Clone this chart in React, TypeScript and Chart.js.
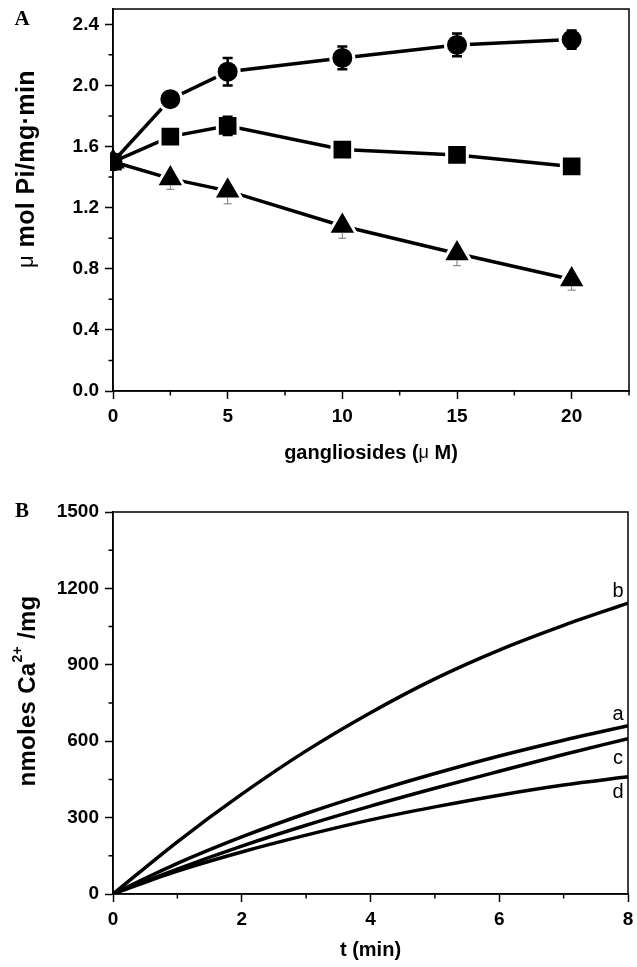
import React, { useEffect, useRef } from "react";
import { Chart, registerables } from "chart.js";

Chart.register(...registerables);

const SANS = '"Liberation Sans", Arial, Helvetica, sans-serif';
const SERIF = '"Liberation Serif", "Times New Roman", serif';

// ---- Panel A: ATPase activity against ganglioside concentration ----
const gangliosides = [0, 2.5, 5, 10, 15, 20];
const activityCircles = [1.5, 1.91, 2.09, 2.18, 2.265, 2.3];
const errorCircles = [0, 0.05, 0.09, 0.075, 0.075, 0.06];
const activitySquares = [1.5, 1.665, 1.735, 1.58, 1.545, 1.47];
const errorSquares = [0, 0.04, 0.06, 0.04, 0.035, 0.04];
const activityTriangles = [1.5, 1.39, 1.31, 1.08, 0.9, 0.73];
const errorTriangles = [0, 0.07, 0.085, 0.08, 0.08, 0.07];

const xTicksA = [0, 5, 10, 15, 20];
const xMinorA = [2.5, 7.5, 12.5, 17.5, 22.5];
const yTicksA = [0, 0.4, 0.8, 1.2, 1.6, 2.0, 2.4];
const yMinorA = [0.2, 0.6, 1.0, 1.4, 1.8, 2.2];

// ---- Panel B: Ca2+ uptake time course ----
const timeMin = [0, 1, 2, 3, 4, 5, 6, 7, 8];
const uptakeA = [0, 120, 224, 316, 398, 473, 542, 604, 661];
const uptakeB = [0, 205, 392, 562, 712, 845, 958, 1055, 1142];
const uptakeC = [0, 98, 188, 270, 345, 415, 482, 548, 610];
const uptakeD = [0, 90, 165, 231, 291, 342, 388, 428, 460];
const curveNames = ["a", "b", "c", "d"];

const xTicksB = [0, 2, 4, 6, 8];
const xMinorB = [1, 3, 5, 7];
const yTicksB = [0, 300, 600, 900, 1200, 1500];
const yMinorB = [150, 450, 750, 1050, 1350];

const TICK_FONT = { family: SANS, size: 19, weight: "bold" as const };

function linearAxis(
  min: number,
  max: number,
  ticks: number[],
  fmt: (v: number) => string,
  size: number,
  vertical: boolean
) {
  return {
    type: "linear" as const,
    min,
    max,
    afterBuildTicks: (s: any) => {
      s.ticks = ticks.map((value) => ({ value }));
    },
    afterFit: (s: any) => {
      if (vertical) {
        s.width = size;
        s.paddingTop = 0;
        s.paddingBottom = 0;
      } else {
        s.height = size;
        s.paddingLeft = 0;
        s.paddingRight = 0;
      }
    },
    grid: {
      drawOnChartArea: false,
      drawTicks: true,
      tickLength: 8,
      tickColor: "#000",
      tickWidth: 1.5,
    },
    border: { display: true, color: "#000", width: 1.5 },
    ticks: {
      color: "#000",
      font: TICK_FONT,
      padding: 6,
      autoSkip: false,
      maxRotation: 0,
      callback: (v: any) => fmt(Number(v)),
    },
  };
}

// Sequential text pieces, optionally rotated, centred on (cx, cy)
type Piece = { t: string; font: string; dy?: number };
function drawPieces(
  ctx: CanvasRenderingContext2D,
  pieces: Piece[],
  cx: number,
  cy: number,
  rotate = false,
  spacing = 0
) {
  ctx.save();
  ctx.translate(cx, cy);
  if (rotate) ctx.rotate(-Math.PI / 2);
  ctx.textBaseline = "middle";
  ctx.textAlign = "left";
  ctx.fillStyle = "#000";
  (ctx as any).letterSpacing = `${spacing}px`;
  let total = 0;
  const widths = pieces.map((p) => {
    ctx.font = p.font;
    const w = ctx.measureText(p.t).width;
    total += w;
    return w;
  });
  let x = -total / 2;
  pieces.forEach((p, i) => {
    ctx.font = p.font;
    ctx.fillText(p.t, x, p.dy || 0);
    x += widths[i];
  });
  ctx.restore();
}

function frameAndMinor(chart: any, xMinor: number[], yMinor: number[]) {
  const { ctx, chartArea: a } = chart;
  const xs = chart.scales.x;
  const ys = chart.scales.y;
  ctx.save();
  ctx.strokeStyle = "#000";
  ctx.lineWidth = 1.5;
  ctx.strokeRect(a.left, a.top, a.right - a.left, a.bottom - a.top);
  ctx.beginPath();
  xMinor.forEach((v) => {
    const p = xs.getPixelForValue(v);
    ctx.moveTo(p, a.bottom);
    ctx.lineTo(p, a.bottom + 4.5);
  });
  yMinor.forEach((v) => {
    const p = ys.getPixelForValue(v);
    ctx.moveTo(a.left, p);
    ctx.lineTo(a.left - 4.5, p);
  });
  ctx.stroke();
  ctx.restore();
}

// Error bar specs for panel A: inner gaps keep bars outside the marker body
const errorSpecs = [
  { values: activityCircles, errors: errorCircles, color: "#000", width: 2.5, cap: 5, innerUp: 9, innerDown: 9 },
  { values: activitySquares, errors: errorSquares, color: "#000", width: 2.5, cap: 5, innerUp: 8.5, innerDown: 8.5 },
  { values: activityTriangles, errors: errorTriangles, color: "#777", width: 1, cap: 4, innerUp: 13, innerDown: 6.5 },
];

const baseOptions = (padTop: number, padRight: number) => ({
  animation: false as const,
  responsive: false,
  devicePixelRatio: 1,
  events: [] as any[],
  layout: { autoPadding: false, padding: { left: 0, top: padTop, right: padRight, bottom: 0 } },
  plugins: { legend: { display: false }, tooltip: { enabled: false } },
});

function PanelA() {
  const ref = useRef<HTMLCanvasElement>(null);
  useEffect(() => {
    const halo = (c: any) => (c.dataIndex === 0 ? 0 : 3);
    const base = {
      borderColor: "#000",
      borderWidth: 3.5,
      pointBackgroundColor: "#000",
      pointBorderColor: "#fff",
      pointBorderWidth: halo,
      tension: 0,
      clip: 3,
    };
    const chart = new Chart(ref.current!, {
      type: "line",
      data: {
        datasets: [
          {
            ...base,
            data: gangliosides.map((x, i) => ({ x, y: activityCircles[i] })),
            pointStyle: "circle",
            pointRadius: (c: any) => (c.dataIndex === 0 ? 9.5 : 11.5),
          },
          {
            ...base,
            data: gangliosides.map((x, i) => ({ x, y: activitySquares[i] })),
            pointStyle: "rect",
            pointRadius: (c: any) => (c.dataIndex === 0 ? 12.3 : 14.6),
          },
          {
            ...base,
            data: gangliosides.map((x, i) => ({ x, y: activityTriangles[i] })),
            pointStyle: "triangle",
            pointRadius: (c: any) => (c.dataIndex === 0 ? 13.5 : 16.5),
          },
        ] as any,
      },
      options: {
        ...baseOptions(9, 8),
        scales: {
          x: linearAxis(0, 22.5, xTicksA, (v) => String(v), 79, false),
          y: linearAxis(0, 2.5, yTicksA, (v) => v.toFixed(1), 113, true),
        } as any,
      },
      plugins: [
        {
          id: "errorBars",
          afterDatasetsDraw(c: any) {
            const { ctx } = c;
            const xs = c.scales.x;
            const ys = c.scales.y;
            ctx.save();
            errorSpecs.forEach((s) => {
              ctx.strokeStyle = s.color;
              ctx.lineWidth = s.width;
              s.values.forEach((v, i) => {
                const e = s.errors[i];
                if (!e) return;
                const px = xs.getPixelForValue(gangliosides[i]);
                const py = ys.getPixelForValue(v);
                const top = ys.getPixelForValue(v + e);
                const bot = ys.getPixelForValue(v - e);
                ctx.beginPath();
                if (py - top > s.innerUp) {
                  ctx.moveTo(px, py - s.innerUp);
                  ctx.lineTo(px, top);
                  ctx.moveTo(px - s.cap, top);
                  ctx.lineTo(px + s.cap, top);
                }
                if (bot - py > s.innerDown) {
                  ctx.moveTo(px, py + s.innerDown);
                  ctx.lineTo(px, bot);
                  ctx.moveTo(px - s.cap, bot);
                  ctx.lineTo(px + s.cap, bot);
                }
                ctx.stroke();
              });
            });
            ctx.restore();
          },
          afterDraw(c: any) {
            frameAndMinor(c, xMinorA, yMinorA);
            const { ctx, chartArea: a } = c;
            const cx = (a.left + a.right) / 2;
            const cy = (a.top + a.bottom) / 2;
            drawPieces(ctx, [{ t: "A", font: `bold 21px ${SERIF}` }], 22, 20);
            drawPieces(
              ctx,
              [
                { t: "\u03bc", font: `22px ${SANS}` },
                { t: " mol Pi/mg\u00b7min", font: `bold 25px ${SANS}` },
              ],
              27,
              cy - 31,
              true,
              0.4
            );
            drawPieces(
              ctx,
              [
                { t: "gangliosides (", font: `bold 20px ${SANS}` },
                { t: "\u03bc", font: `18px ${SANS}` },
                { t: " M)", font: `bold 20px ${SANS}` },
              ],
              cx,
              a.bottom + 62
            );
          },
        },
      ],
    });
    return () => chart.destroy();
  }, []);
  return (
    <canvas
      ref={ref}
      width={637}
      height={470}
      style={{ position: "absolute", left: 0, top: 0, display: "block" }}
    />
  );
}

// Label offsets for the curve names, relative to each curve's end point
const labelShift = [-11, -12, 20, 16];

function PanelB() {
  const ref = useRef<HTMLCanvasElement>(null);
  useEffect(() => {
    const series = [uptakeA, uptakeB, uptakeC, uptakeD];
    const chart = new Chart(ref.current!, {
      type: "line",
      data: {
        datasets: series.map((vals, k) => ({
          label: curveNames[k],
          data: timeMin.map((x, i) => ({ x, y: vals[i] })),
          borderColor: "#000",
          borderWidth: 3.5,
          pointRadius: 0,
          cubicInterpolationMode: "monotone",
          tension: 0.4,
        })) as any,
      },
      options: {
        ...baseOptions(42, 9),
        scales: {
          x: linearAxis(0, 8, xTicksB, (v) => String(v), 73, false),
          y: linearAxis(0, 1500, yTicksB, (v) => String(v), 113, true),
        } as any,
      },
      plugins: [
        {
          id: "decorB",
          afterDraw(c: any) {
            frameAndMinor(c, xMinorB, yMinorB);
            const { ctx, chartArea: a } = c;
            const cx = (a.left + a.right) / 2;
            const cy = (a.top + a.bottom) / 2;
            drawPieces(ctx, [{ t: "B", font: `bold 21px ${SERIF}` }], 22, a.top);
            drawPieces(
              ctx,
              [
                { t: "nmoles Ca", font: `bold 24px ${SANS}` },
                { t: "2+", font: `bold 14px ${SANS}`, dy: -10 },
                { t: " /mg", font: `bold 24px ${SANS}` },
              ],
              28,
              cy - 12,
              true,
              0.3
            );
            drawPieces(ctx, [{ t: "t (min)", font: `bold 20px ${SANS}` }], cx, a.bottom + 56);
            // curve names next to the curve ends
            c.data.datasets.forEach((ds: any, k: number) => {
              const last = ds.data[ds.data.length - 1];
              const py = c.scales.y.getPixelForValue(last.y) + labelShift[k];
              drawPieces(ctx, [{ t: curveNames[k], font: `20px ${SANS}` }], a.right - 10, py);
            });
          },
        },
      ],
    });
    return () => chart.destroy();
  }, []);
  return (
    <canvas
      ref={ref}
      width={637}
      height={497}
      style={{ position: "absolute", left: 0, top: 470, display: "block" }}
    />
  );
}

export default function App() {
  return (
    <div style={{ position: "absolute", left: 0, top: 0, width: 637, height: 967, background: "#fff" }}>
      <PanelA />
      <PanelB />
    </div>
  );
}
